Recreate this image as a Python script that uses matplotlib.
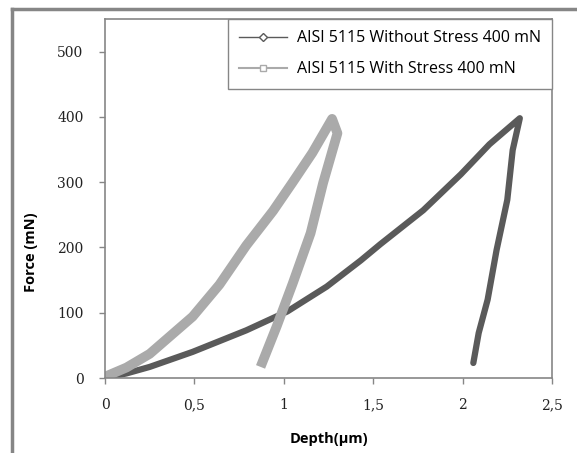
import numpy as np
import matplotlib.pyplot as plt
from matplotlib.lines import Line2D

# datos (profundidad um, fuerza mN)
sin_carga_x = [0.0, 0.12, 0.25, 0.49, 0.79, 1.02, 1.24, 1.43, 1.54, 1.78, 1.99, 2.15, 2.32]
sin_carga_y = [0, 7, 17, 40, 73, 102, 140, 180, 205, 257, 312, 358, 398]
sin_desc_x = [2.32, 2.28, 2.25, 2.19, 2.14, 2.09, 2.06]
sin_desc_y = [398, 349, 273, 196, 120, 69, 23]

con_carga_x = [0.0, 0.12, 0.25, 0.49, 0.64, 0.79, 0.94, 1.05, 1.16, 1.27]
con_carga_y = [2, 16, 37, 94, 143, 203, 256, 300, 345, 397]
con_desc_x = [1.27, 1.30, 1.22, 1.15, 1.05, 0.96, 0.87]
con_desc_y = [397, 375, 299, 222, 145, 79, 17]

xticks = [0, 0.5, 1, 1.5, 2, 2.5]
xlabels = ["0", "0,5", "1", "1,5", "2", "2,5"]
yticks = [0, 100, 200, 300, 400, 500]

nombres = ["AISI 5115 Without Stress 400 mN", "AISI 5115 With Stress 400 mN"]
oscuro = "#5a5a5a"
claro = "#aaaaaa"
gris = "#868686"

fig = plt.figure(figsize=(5.77, 4.53), dpi=100)
ax = fig.add_axes([105 / 577, 75 / 453, 447 / 577, 359 / 453])

ax.plot(sin_carga_x + sin_desc_x, sin_carga_y + sin_desc_y, color=oscuro, lw=4.5,
        solid_capstyle="round", solid_joinstyle="round")
ax.plot(con_carga_x + con_desc_x, con_carga_y + con_desc_y, color=claro, lw=7,
        solid_capstyle="butt", solid_joinstyle="round")

ax.set_xlim(0, 2.5)
ax.set_ylim(0, 550)
ax.set_xticks(xticks)
ax.set_xticklabels(xlabels)
ax.set_yticks(yticks)
for s in ax.spines.values():
    s.set_color(gris)
    s.set_linewidth(1.2)
ax.tick_params(direction="out", length=4.5, width=1.0, color=gris, labelcolor="#222222")
ax.tick_params(axis="x", pad=10)
ax.tick_params(axis="y", pad=11)
for t in ax.get_xticklabels() + ax.get_yticklabels():
    t.set_family("DejaVu Serif")
    t.set_fontsize(10)

ax.set_xlabel("Depth(µm)", family="Open Sans", fontweight="bold", fontsize=10.5)
ax.set_ylabel("Force (mN)", family="Open Sans", fontweight="bold", fontsize=10.5)
ax.xaxis.set_label_coords(0.5, -0.15)
ax.yaxis.set_label_coords(-0.15, 0.35)

h1 = Line2D([], [], color=oscuro, lw=1, marker="D", markersize=4,
            markerfacecolor="white", markeredgecolor=oscuro)
h2 = Line2D([], [], color=claro, lw=1.5, marker="s", markersize=5,
            markerfacecolor="white", markeredgecolor=claro)
leg = ax.legend([h1, h2], nombres, loc="upper right", bbox_to_anchor=(1, 1),
                borderaxespad=0, prop={"family": "Open Sans", "size": 11.5},
                handlelength=3.0, handletextpad=0.6, labelspacing=0.95,
                borderpad=0.7, fancybox=False, framealpha=1)
leg.get_frame().set_edgecolor(gris)
leg.get_frame().set_linewidth(1.0)

# marco exterior
fig.add_artist(Line2D([12 / 577, 12 / 577], [0, 1 - 9 / 453], color=gris, lw=2.5,
                      transform=fig.transFigure))
fig.add_artist(Line2D([12 / 577, 575 / 577], [1 - 9 / 453, 1 - 9 / 453], color=gris,
                      lw=2.5, transform=fig.transFigure))

fig.savefig("out.png", dpi=100)
